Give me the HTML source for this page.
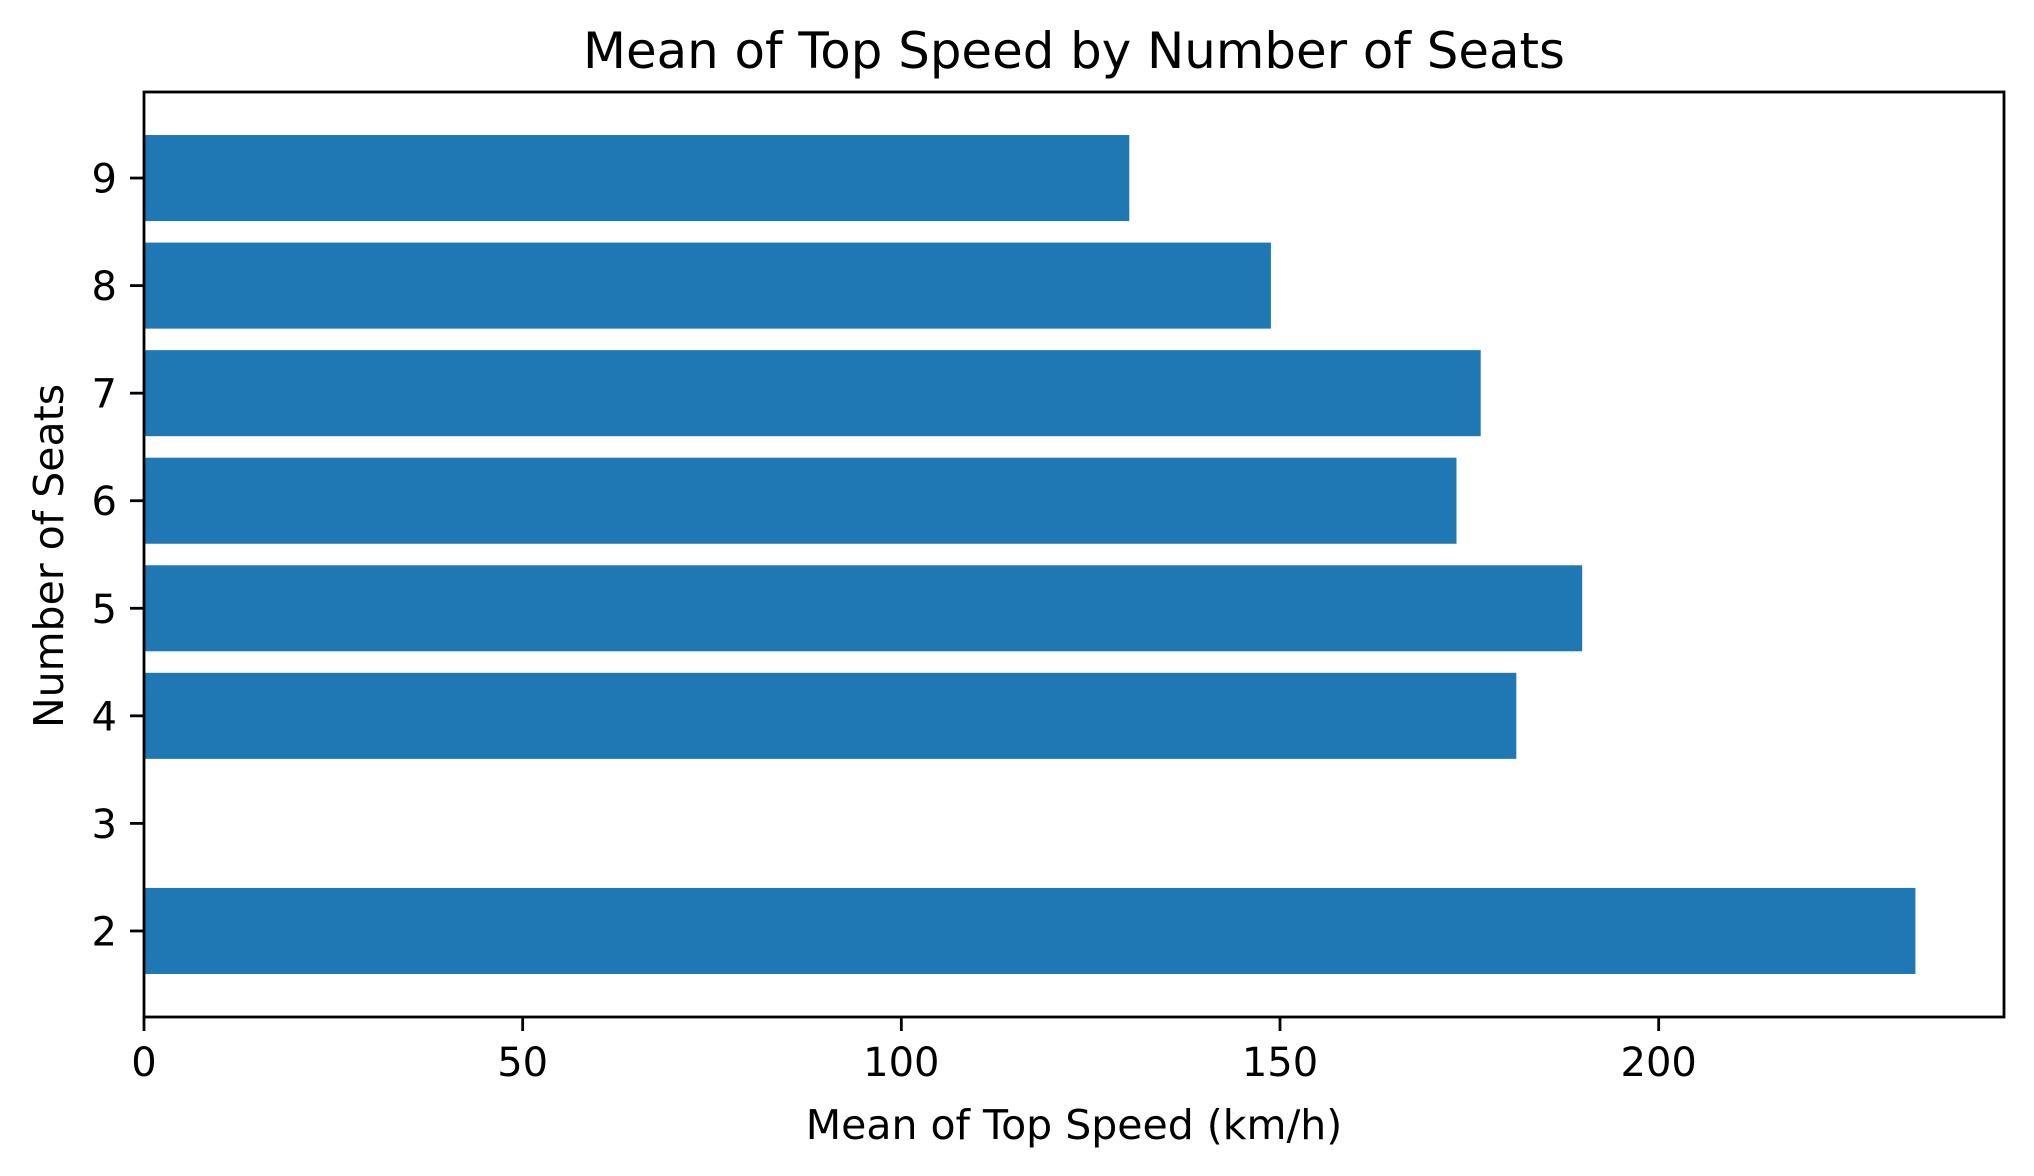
<!DOCTYPE html>
<html><head><meta charset="utf-8"><style>
html,body{margin:0;padding:0;background:#fff;}
svg{display:block;font-family:"DejaVu Sans","Liberation Sans",sans-serif;}
</style></head><body>
<svg id="chart" width="2034" height="1176" viewBox="0 0 2034 1176">
<text x="1074" y="68" font-size="49.8" text-anchor="middle">Mean of Top Speed by Number of Seats</text>
<g id="bars"></g>
<g id="xticks"></g>
<g id="yticks"></g>
<rect x="144" y="92" width="1860" height="925" fill="none" stroke="#000" stroke-width="2.8"/>
<text x="1074" y="1139" font-size="41" text-anchor="middle">Mean of Top Speed (km/h)</text>
<text x="0" y="0" font-size="41" text-anchor="middle" transform="translate(63,556) rotate(-90)">Number of Seats</text>
</svg>
<script>
const seats = [2, 4, 5, 6, 7, 8, 9];
const speeds = [233.9, 181.2, 189.9, 173.3, 176.5, 148.8, 130.1];
const xTicks = [0, 50, 100, 150, 200];
const yTicks = [2, 3, 4, 5, 6, 7, 8, 9];
const L=144,R=2004,T=92,B=1017;
const xMax=Math.max(...speeds)*1.05;
const yMin=1.2,yMax=9.8;
const xs=v=>L+(v/xMax)*(R-L);
const ys=v=>B-(v-yMin)/(yMax-yMin)*(B-T);
const NS='http://www.w3.org/2000/svg';
const bars=document.getElementById('bars');
seats.forEach((s,i)=>{
  const r=document.createElementNS(NS,'rect');
  r.setAttribute('x',xs(0));
  r.setAttribute('y',ys(s+0.4));
  r.setAttribute('width',xs(speeds[i])-xs(0));
  r.setAttribute('height',ys(s-0.4)-ys(s+0.4));
  r.setAttribute('fill','#1f77b4');
  
  
  bars.appendChild(r);
});
const xg=document.getElementById('xticks');
xTicks.forEach(t=>{
  const x=xs(t);
  const l=document.createElementNS(NS,'line');
  l.setAttribute('x1',x);l.setAttribute('x2',x);l.setAttribute('y1',B);l.setAttribute('y2',B+14);
  l.setAttribute('stroke','#000');l.setAttribute('stroke-width','2.8');
  
  
  xg.appendChild(l);
  const tx=document.createElementNS(NS,'text');
  tx.setAttribute('x',x);tx.setAttribute('y',1076);tx.setAttribute('font-size','40');tx.setAttribute('text-anchor','middle');
  tx.textContent=t;
  
  
  xg.appendChild(tx);
});
const yg=document.getElementById('yticks');
yTicks.forEach(t=>{
  const y=ys(t);
  const l=document.createElementNS(NS,'line');
  l.setAttribute('x1',L-14);l.setAttribute('x2',L);l.setAttribute('y1',y);l.setAttribute('y2',y);
  l.setAttribute('stroke','#000');l.setAttribute('stroke-width','2.8');
  
  
  yg.appendChild(l);
  const tx=document.createElementNS(NS,'text');
  tx.setAttribute('x',L-27);tx.setAttribute('y',y+14.5);tx.setAttribute('font-size','40');tx.setAttribute('text-anchor','end');
  tx.textContent=t;
  
  
  yg.appendChild(tx);
});
</script>
</body></html>
